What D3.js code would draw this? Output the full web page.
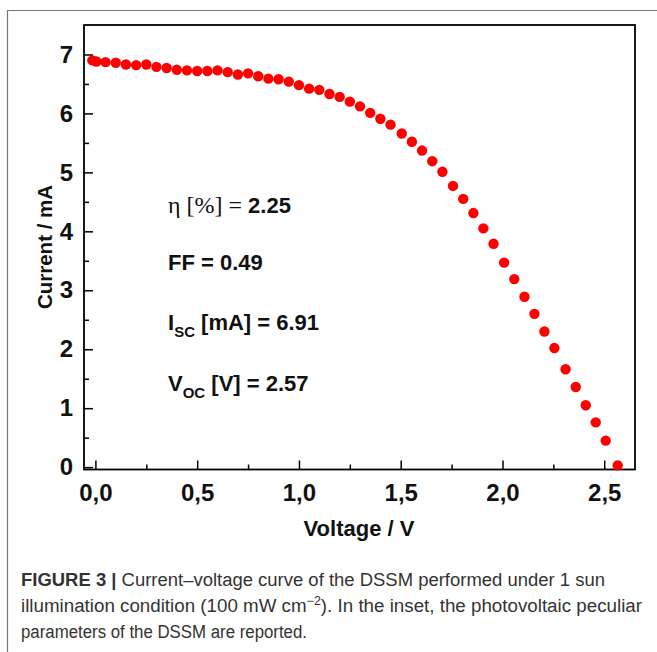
<!DOCTYPE html>
<html><head><meta charset="utf-8">
<script src="https://cdnjs.cloudflare.com/ajax/libs/d3/7.8.5/d3.min.js"></script>
<style>body{margin:0;background:#fff}svg{display:block}</style>
</head><body>
<script>
// Data
const voltage = [-0.015,0.005,0.05,0.10,0.15,0.20,0.25,0.30,0.35,0.40,0.45,0.50,0.55,0.60,0.65,0.70,0.75,0.80,0.85,0.90,0.95,1.00,1.05,1.10,1.15,1.20,1.25,1.30,1.35,1.40,1.45,1.505,1.555,1.605,1.655,1.705,1.757,1.807,1.857,1.906,1.956,2.008,2.058,2.108,2.157,2.206,2.255,2.310,2.360,2.409,2.458,2.507,2.566];
const current = [6.90,6.88,6.87,6.86,6.83,6.82,6.83,6.79,6.77,6.74,6.73,6.72,6.72,6.73,6.70,6.66,6.68,6.63,6.59,6.58,6.54,6.48,6.42,6.40,6.33,6.28,6.20,6.12,6.01,5.91,5.81,5.66,5.52,5.37,5.19,5.01,4.77,4.55,4.31,4.05,3.79,3.47,3.19,2.89,2.60,2.30,2.02,1.66,1.36,1.05,0.76,0.45,0.03];
const xTicks = [0,0.5,1.0,1.5,2.0,2.5];
const xMinor = [0.25,0.75,1.25,1.75,2.25];
const yTicks = [0,1,2,3,4,5,6,7];
const yMinor = [0.5,1.5,2.5,3.5,4.5,5.5,6.5];
const xTitle = "Voltage / V";
const yTitle = "Current / mA";
const captionLines = [
  ["FIGURE 3 | ", "Current–voltage curve of the DSSM performed under 1 sun"],
  ["", "illumination condition (100 mW cm", "−2", "). In the inset, the photovoltaic peculiar"],
  ["", "parameters of the DSSM are reported."]
];

const W = 657, H = 652;
const svg = d3.select("body").append("svg").attr("width", W).attr("height", H);
const sans = "'Liberation Sans', Arial, sans-serif";

// outer figure frame
svg.append("path").attr("d", `M657,10.5 H7.5 V652`).attr("fill","none").attr("stroke","#777").attr("stroke-width",1.2);

const x = d3.scaleLinear().domain([-0.056, 2.651]).range([84, 635]);
const y = d3.scaleLinear().domain([-0.04, 7.5]).range([469.5, 25]);
const fmt = d => d3.format(".1f")(d).replace(".", ",");

// x axis
const gx = svg.append("g").attr("transform", "translate(0,469.5)")
  .call(d3.axisBottom(x).tickValues(xTicks).tickFormat(fmt).tickSize(-9).tickPadding(14));
gx.select(".domain").remove();
gx.selectAll("line").attr("stroke","#000").attr("stroke-width",1.5);
gx.selectAll("text").attr("font-family", sans).attr("font-weight","bold").attr("font-size",24).attr("fill","#111");
svg.append("g").attr("transform","translate(0,469.5)")
  .call(d3.axisBottom(x).tickValues(xMinor).tickFormat("").tickSize(-5))
  .call(g => { g.select(".domain").remove(); g.selectAll("line").attr("stroke","#000").attr("stroke-width",1.5); });

// y axis
const gy = svg.append("g").attr("transform", "translate(84,0)")
  .call(d3.axisLeft(y).tickValues(yTicks).tickFormat(d3.format("d")).tickSize(-9).tickPadding(11));
gy.select(".domain").remove();
gy.selectAll("line").attr("stroke","#000").attr("stroke-width",1.5);
gy.selectAll("text").attr("font-family", sans).attr("font-weight","bold").attr("font-size",24).attr("fill","#111");
svg.append("g").attr("transform","translate(84,0)")
  .call(d3.axisLeft(y).tickValues(yMinor).tickFormat("").tickSize(-5))
  .call(g => { g.select(".domain").remove(); g.selectAll("line").attr("stroke","#000").attr("stroke-width",1.5); });

// plot frame
svg.append("rect").attr("x", x.range()[0]).attr("y", y.range()[1])
  .attr("width", x.range()[1]-x.range()[0]).attr("height", y.range()[0]-y.range()[1])
  .attr("fill","none").attr("stroke","#000").attr("stroke-width",1.8);

// data points
const pts = voltage.map((v,i) => ({v, c: current[i]}));
svg.append("g").selectAll("circle").data(pts).join("circle")
  .attr("cx", d => x(d.v)).attr("cy", d => y(d.c)).attr("r", 5.2).attr("fill", "#ff0000");

// axis titles
svg.append("text").attr("x", 359).attr("y", 536).attr("text-anchor","middle")
  .attr("font-family", sans).attr("font-weight","bold").attr("font-size",22).attr("fill","#111").text(xTitle);
svg.append("text").attr("transform","translate(52,247) rotate(-90)").attr("text-anchor","middle")
  .attr("font-family", sans).attr("font-weight","bold").attr("font-size",20.5).attr("fill","#111").text(yTitle);

// inset parameters
const inset = svg.append("g").attr("font-family", sans).attr("font-weight","bold").attr("font-size",22).attr("fill","#111");
const t1 = inset.append("text").attr("x",168).attr("y",213);
t1.append("tspan").attr("font-family","'Liberation Serif', 'Times New Roman', serif").attr("font-weight","normal").attr("font-size",24).text("η [%] = ");
t1.append("tspan").text("2.25");
inset.append("text").attr("x",168).attr("y",270).text("FF = 0.49");
const t3 = inset.append("text").attr("x",168).attr("y",330);
t3.append("tspan").text("I");
t3.append("tspan").attr("font-size",15).attr("dy",7).text("SC");
t3.append("tspan").attr("dy",-7).text(" [mA] = 6.91");
const t4 = inset.append("text").attr("x",168).attr("y",391);
t4.append("tspan").text("V");
t4.append("tspan").attr("font-size",15).attr("dy",7).text("OC");
t4.append("tspan").attr("dy",-7).text(" [V] = 2.57");

// caption
const cap = svg.append("g").attr("font-family", sans).attr("font-size",18).attr("fill","#333");
const c1 = cap.append("text").attr("x",21).attr("y",586).attr("textLength",584).attr("lengthAdjust","spacingAndGlyphs");
c1.append("tspan").attr("font-weight","bold").text(captionLines[0][0]);
c1.append("tspan").text(captionLines[0][1]);
const c2 = cap.append("text").attr("x",21).attr("y",612).attr("textLength",621).attr("lengthAdjust","spacingAndGlyphs");
c2.append("tspan").text(captionLines[1][1]);
c2.append("tspan").attr("font-size",12).attr("dy",-7).text(captionLines[1][2]);
c2.append("tspan").attr("dy",7).text(captionLines[1][3]);
cap.append("text").attr("x",21).attr("y",638).attr("textLength",286).attr("lengthAdjust","spacingAndGlyphs").text(captionLines[2][1]);
</script>
</body></html>
